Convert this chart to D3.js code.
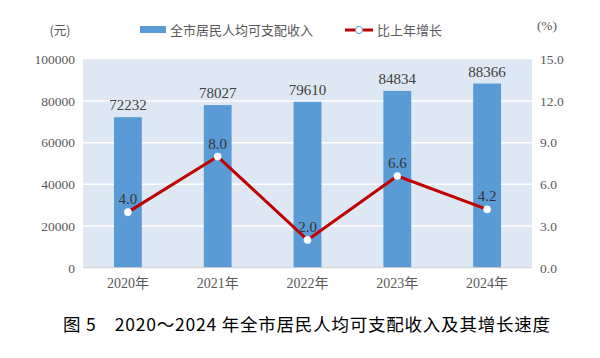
<!DOCTYPE html>
<html><head><meta charset="utf-8">
<script src="https://cdn.jsdelivr.net/npm/d3@7"></script>
<style>
body{margin:0;background:#fff;}
svg{display:block;}
</style></head>
<body>
<svg id="c" width="600" height="358"></svg>
<script>
const years = ["2020年","2021年","2022年","2023年","2024年"];
const income = [72232, 78027, 79610, 84834, 88366];
const growth = [4.0, 8.0, 2.0, 6.6, 4.2];
const leftTicks = [0, 20000, 40000, 60000, 80000, 100000];
const rightTicks = [0, 3, 6, 9, 12, 15];
const legendLabels = ["全市居民人均可支配收入", "比上年增长"];
const caption = "图 5　2020～2024 年全市居民人均可支配收入及其增长速度";

const svg = d3.select("#c");
const L = 83, R = 532, T = 59.3, B = 267.7;
const serif = "'Liberation Serif','DejaVu Serif',serif";
const cjk = "'Noto Sans CJK SC','Noto Sans',sans-serif";
const axisCol = "#595959";

const x = d3.scaleBand().domain(years).range([L, R]).paddingInner(0.69).paddingOuter(0.345);
const yL = d3.scaleLinear().domain([0, 100000]).range([B, T]);
const yR = d3.scaleLinear().domain([0, 15]).range([B, T]);

// background
svg.append("rect").attr("x", L).attr("y", T).attr("width", R - L).attr("height", B - T).attr("fill", "#dde8f4");

// gridlines
svg.append("g").selectAll("line").data(leftTicks.filter(d => d > 0 && d < 100000)).join("line")
  .attr("x1", L).attr("x2", R).attr("y1", d => yL(d)).attr("y2", d => yL(d))
  .attr("stroke", "#ffffff").attr("stroke-width", 1.5);

// bars
svg.append("g").selectAll("rect").data(income).join("rect")
  .attr("x", (d, i) => x(years[i])).attr("width", x.bandwidth())
  .attr("y", d => yL(d)).attr("height", d => B - yL(d))
  .attr("fill", "#5b9bd5");

// baseline
svg.append("line").attr("x1", L).attr("x2", R).attr("y1", B).attr("y2", B).attr("stroke", "#d0d0d0").attr("stroke-width", 1);

// bar labels
svg.append("g").selectAll("text").data(income).join("text")
  .attr("x", (d, i) => x(years[i]) + x.bandwidth() / 2).attr("y", d => yL(d) - 7)
  .attr("text-anchor", "middle").attr("font-family", serif).attr("font-size", 15)
  .attr("fill", "#404040").text(d => d);

// left axis
const axL = d3.axisLeft(yL).tickValues(leftTicks).tickFormat(d => d).tickSize(0).tickPadding(8);
const gL = svg.append("g").attr("transform", `translate(${L},0)`).call(axL);
gL.select(".domain").remove();
gL.selectAll("text").attr("font-family", serif).attr("font-size", 13.5).attr("fill", axisCol);

// right axis
const axR = d3.axisRight(yR).tickValues(rightTicks).tickFormat(d3.format(".1f")).tickSize(0).tickPadding(8);
const gR = svg.append("g").attr("transform", `translate(${R},0)`).call(axR);
gR.select(".domain").remove();
gR.selectAll("text").attr("font-family", serif).attr("font-size", 13.5).attr("fill", axisCol);

// bottom axis
const axB = d3.axisBottom(x).tickSize(0).tickPadding(10);
const gB = svg.append("g").attr("transform", `translate(0,${B})`).call(axB);
gB.select(".domain").remove();
gB.selectAll("text").attr("font-family", serif + ",'Noto Sans CJK SC'").attr("font-size", 14).attr("fill", axisCol);

// line
const line = d3.line().x((d, i) => x(years[i]) + x.bandwidth() / 2).y(d => yR(d));
svg.append("path").datum(growth).attr("d", line).attr("fill", "none")
  .attr("stroke", "#c00000").attr("stroke-width", 3).attr("stroke-linejoin", "round");
svg.append("g").selectAll("circle").data(growth).join("circle")
  .attr("cx", (d, i) => x(years[i]) + x.bandwidth() / 2).attr("cy", d => yR(d)).attr("r", 3.6)
  .attr("fill", "#ffffff").attr("stroke", "#ffffff").attr("stroke-width", 0.5);
svg.append("g").selectAll("text").data(growth).join("text")
  .attr("x", (d, i) => x(years[i]) + x.bandwidth() / 2).attr("y", d => yR(d) - 8)
  .attr("text-anchor", "middle").attr("font-family", serif).attr("font-size", 15)
  .attr("fill", "#333333").text(d => d3.format(".1f")(d));

// unit labels
svg.append("text").attr("x", 60).attr("y", 35).attr("text-anchor", "middle")
  .attr("font-family", cjk).attr("font-size", 12.5).attr("fill", axisCol).text("(元)");
svg.append("text").attr("x", 547).attr("y", 30).attr("text-anchor", "middle")
  .attr("font-family", serif).attr("font-size", 13.5).attr("fill", axisCol).text("(%)");

// legend
svg.append("rect").attr("x", 140).attr("y", 26).attr("width", 26).attr("height", 7).attr("fill", "#5b9bd5");
svg.append("text").attr("x", 170).attr("y", 34.5).attr("font-family", cjk).attr("font-size", 13)
  .attr("fill", axisCol).text(legendLabels[0]);
svg.append("line").attr("x1", 345).attr("x2", 373).attr("y1", 30).attr("y2", 30).attr("stroke", "#c00000").attr("stroke-width", 3);
svg.append("circle").attr("cx", 359).attr("cy", 30).attr("r", 3.6).attr("fill", "#fff").attr("stroke", "#5b9bd5").attr("stroke-width", 1);
svg.append("text").attr("x", 377).attr("y", 34.5).attr("font-family", cjk).attr("font-size", 13)
  .attr("fill", axisCol).text(legendLabels[1]);

// caption
svg.append("text").attr("x", 63).attr("y", 331)
  .attr("font-family", cjk).attr("font-size", 17.5).attr("font-weight", 400).attr("fill", "#000")
  .attr("textLength", 487).attr("lengthAdjust", "spacing")
  .text(caption);
</script>
</body></html>
